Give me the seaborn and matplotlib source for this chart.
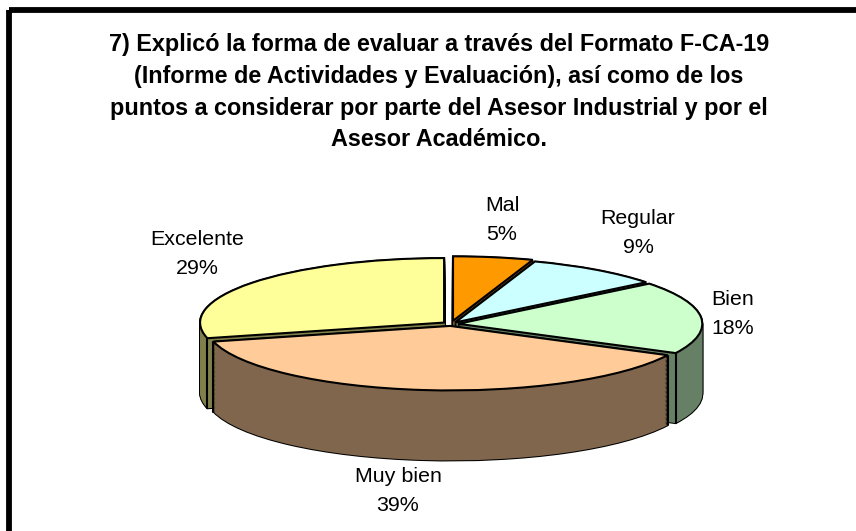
import numpy as np
import seaborn as sns
import matplotlib.pyplot as plt
from matplotlib.patches import Rectangle

# Data
categorias = ['Mal', 'Regular', 'Bien', 'Muy bien', 'Excelente']
valores = [5.3, 9.0, 18.2, 38.6, 28.9]
porcentajes = [5, 9, 18, 39, 29]  # as printed
titulo = ('7) Explicó la forma de evaluar a través del Formato F-CA-19\n'
          '(Informe de Actividades y Evaluación), así como de los\n'
          'puntos a considerar por parte del Asesor Industrial y por el\n'
          'Asesor Académico.')

# Styles
colores = ['#FF9900', '#CCFFFF', '#CCFFCC', '#FFCC99', '#FFFF99']
paredes = ['#805020', '#668080', '#668066', '#80664D', '#80804D']
separacion = [0.05, 0.03, 0.03, 0.03, 0.036]
pos_etiquetas = [(502, 220), (638, 233), (733, 314), (398, 491), (197, 254)]
orden = [4, 0, 1, 2, 3]  # back to front

sns.set_theme(style='white')
plt.rcParams['font.family'] = ['Liberation Sans', 'DejaVu Sans']

W, H = 856, 531
cx, cy = 451, 324
rx, ry = 244, 64.5
grosor = 70 / ry

fig = plt.figure(figsize=(W / 100, H / 100), dpi=100, facecolor='white')
ax = fig.add_axes([0, 0, 1, 1])


def dibujar(i, caida, cara, borde, ancho, z):
    wedges, _ = ax.pie(valores, explode=separacion, colors=[cara] * len(valores),
                       center=(0, -caida), startangle=90, counterclock=False,
                       wedgeprops=dict(edgecolor=borde, linewidth=ancho, zorder=z))
    for j, w in enumerate(wedges):
        if j != i:
            w.remove()
    return wedges[i]


capas = np.arange(grosor, 0, -0.02)
z = 1
for i in orden:
    # black silhouette first, wall colour on top of it
    for c in capas:
        dibujar(i, c, 'black', 'black', 1.5, z)
    z += 1
    for c in capas:
        w = dibujar(i, c, paredes[i], 'none', 0, z)
    z += 1
    for ang in (w.theta1, w.theta2):
        s = np.sin(np.radians(ang))
        if s < -0.01:
            x = w.center[0] + w.r * np.cos(np.radians(ang))
            y = w.center[1] + w.r * s
            ax.plot([x, x], [y, y - grosor + capas[-1]], color='black', lw=1.5, zorder=z)
    z += 1

for i in orden:
    dibujar(i, 0, colores[i], 'black', 1.5, z)
    z += 1

ax.set_aspect('auto')
ax.set_xlim(-cx / rx, (W - cx) / rx)
ax.set_ylim(-(H - cy) / ry, cy / ry)
ax.axis('off')

# Overlay in pixel coordinates for frame and text
ov = fig.add_axes([0, 0, 1, 1], facecolor='none')
ov.set_xlim(0, W)
ov.set_ylim(H, 0)
ov.axis('off')
ov.add_patch(Rectangle((9.5, 9.5), W + 50, H + 50, fill=False, edgecolor='black', linewidth=4.2))
ov.text(439, 92, titulo, ha='center', va='center', fontsize=16.8, fontweight='bold',
        color='black', linespacing=1.5)
for nombre, v, (x, y) in zip(categorias, porcentajes, pos_etiquetas):
    ov.text(x, y, f'{nombre}\n{v}%', ha='center', va='center', fontsize=15.4,
            color='black', linespacing=1.62)

fig.savefig('out.png', dpi=100)
